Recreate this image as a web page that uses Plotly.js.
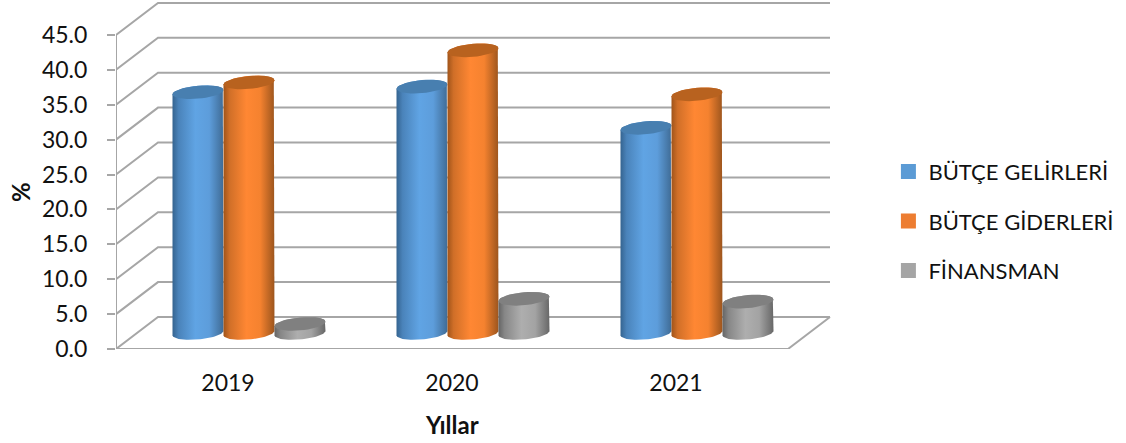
<!DOCTYPE html>
<html>
<head>
<meta charset="utf-8">
<script src="https://cdn.plot.ly/plotly-3.0.1.min.js"></script>
<style>html,body{margin:0;padding:0;background:#fff}#chart{width:1126px;height:443px}</style>
</head>
<body>
<div id="chart"></div>
<script>
// Budget figures as a share (%), by year
const years = ["2019", "2020", "2021"];
const seriesNames = ["BÜTÇE GELİRLERİ", "BÜTÇE GİDERLERİ", "FİNANSMAN"];
const butceGelirleri = [34.5, 35.3, 29.4];
const butceGiderleri = [35.9, 40.5, 34.2];
const finansman = [1.3, 4.9, 4.5];
const yTicks = [0, 5, 10, 15, 20, 25, 30, 35, 40, 45];

const seriesValues = [butceGelirleri, butceGiderleri, finansman];
const swatchColors = ["#5b9bd5", "#ed7d31", "#a5a5a5"];
const capColors = ["#487fb0", "#b8621f", "#808080"];
const bodyScales = [
  [[0, "#356490"], [0.12, "#4a83ba"], [0.45, "#60a4e4"], [0.72, "#5d9ddb"], [1, "#3f6b95"]],
  [[0, "#a0541a"], [0.12, "#d06f28"], [0.45, "#ff8733"], [0.72, "#f5822f"], [1, "#9c551d"]],
  [[0, "#656565"], [0.12, "#878787"], [0.45, "#aeaeae"], [0.72, "#a3a3a3"], [1, "#676767"]]
];

// Pixel scale of the plot area, used to express the pseudo-3D offsets in data units
const plotLeft = 116, plotRight = 832, plotBottom = 349;
const pxPerCategory = 224, pxPerUnit = 6.98;
const xRange = [0.5, 0.5 + (plotRight - plotLeft) / pxPerCategory];
const yRange = [0, plotBottom / pxPerUnit];
const depthX = 42 / pxPerCategory, depthY = 32 / pxPerUnit;
const barWidth = 51 / pxPerCategory;
const capHalfHeight = 6.5 / pxPerUnit, capShear = 2.2 / pxPerUnit;

// Wall and floor lines in perspective, one polyline per tick value
const gridX = [], gridY = [];
const frontLeft = xRange[0], frontRight = years.length + 0.5;
yTicks.forEach(v => {
  gridX.push(frontLeft, frontLeft + depthX, frontRight + depthX, null);
  gridY.push(v, v + depthY, v + depthY, null);
});
// Floor edge back to the front and the vertical axis
gridX.push(frontRight + depthX, frontRight, frontLeft, frontLeft, null);
gridY.push(depthY, 0, 0, yTicks[yTicks.length - 1], null);

function ellipsePoints(cx, cy, from, to) {
  const xs = [], ys = [], n = 40;
  for (let i = 0; i <= n; i++) {
    const t = from + (to - from) * i / n;
    xs.push(cx + barWidth / 2 * Math.cos(t));
    ys.push(cy + capShear * Math.cos(t) + capHalfHeight * Math.sin(t));
  }
  return [xs, ys];
}

const traces = [];
traces.push({
  x: gridX, y: gridY, type: "scatter", mode: "lines", hoverinfo: "skip", showlegend: false,
  line: { color: "#a6a6a6", width: 2 }
});

// Legend keys
seriesNames.forEach((name, s) => traces.push({
  x: [null], y: [null], type: "scatter", mode: "markers", name: name,
  legendgroup: name, showlegend: true, hoverinfo: "skip",
  marker: { symbol: "square", size: 15, color: swatchColors[s] }
}));

// Cylinders: the body with a horizontal shading, then the cap over it
years.forEach((year, c) => {
  seriesValues.forEach((values, s) => {
    const v = values[c];
    const cx = c + 1 + depthX / 2 + (s - 1) * barWidth;
    const base = depthY / 2;
    const top = v + base;
    const [bx, by] = ellipsePoints(cx, base, Math.PI, 2 * Math.PI);
    const [tx, ty] = ellipsePoints(cx, top, 0, Math.PI);
    traces.push({
      x: bx.concat(tx), y: by.concat(ty), type: "scatter", mode: "lines", fill: "toself",
      line: { width: 0 }, showlegend: false, name: seriesNames[s],
      hoverinfo: "text", hovertext: seriesNames[s] + " " + year + ": " + v.toFixed(1),
      fillgradient: { type: "horizontal", colorscale: bodyScales[s] }
    });
    const [cxs, cys] = ellipsePoints(cx, top, 0, 2 * Math.PI);
    traces.push({
      x: cxs, y: cys, type: "scatter", mode: "lines", fill: "toself",
      line: { width: 0 }, fillcolor: capColors[s], showlegend: false, hoverinfo: "skip"
    });
  });
});

const textFont = "Lato, 'Open Sans', sans-serif";
const layout = {
  width: 1126, height: 443,
  margin: { l: plotLeft, r: 1126 - plotRight, t: 0, b: 443 - plotBottom },
  paper_bgcolor: "#fff", plot_bgcolor: "#fff",
  font: { family: textFont, color: "#111" },
  xaxis: {
    range: xRange, showgrid: false, zeroline: false, showline: false, fixedrange: true,
    tickmode: "array", tickvals: years.map((_, i) => i + 1), ticktext: years,
    ticks: "", tickfont: { size: 23, family: textFont }, ticklabelstandoff: 18
  },
  yaxis: {
    range: yRange, showgrid: false, zeroline: false, showline: false, fixedrange: true,
    tickmode: "array", tickvals: yTicks, ticktext: yTicks.map(v => v.toFixed(1)),
    ticks: "outside", ticklen: 8, tickwidth: 2, tickcolor: "#a6a6a6",
    tickfont: { size: 23, family: textFont }, ticklabelstandoff: 15
  },
  showlegend: true,
  legend: {
    xref: "container", yref: "container", x: 0.789, y: 0.66, xanchor: "left", yanchor: "top",
    traceorder: "grouped", tracegroupgap: 18, bgcolor: "rgba(0,0,0,0)",
    font: { size: 22, family: textFont, color: "#111" }, itemclick: false, itemdoubleclick: false
  },
  annotations: [
    { text: "<b>%</b>", xref: "paper", yref: "paper", x: -96 / 716, y: (349 - 192) / 349, textangle: -90,
      showarrow: false, xanchor: "center", yanchor: "middle", font: { size: 24, family: textFont } },
    { text: "<b>Yıllar</b>", xref: "paper", yref: "paper", x: (452 - 116) / 716, y: (349 - 424) / 349,
      showarrow: false, xanchor: "center", yanchor: "middle", font: { size: 24, family: textFont } }
  ]
};

Plotly.newPlot("chart", traces, layout, { displayModeBar: false, responsive: false });
</script>
</body>
</html>
